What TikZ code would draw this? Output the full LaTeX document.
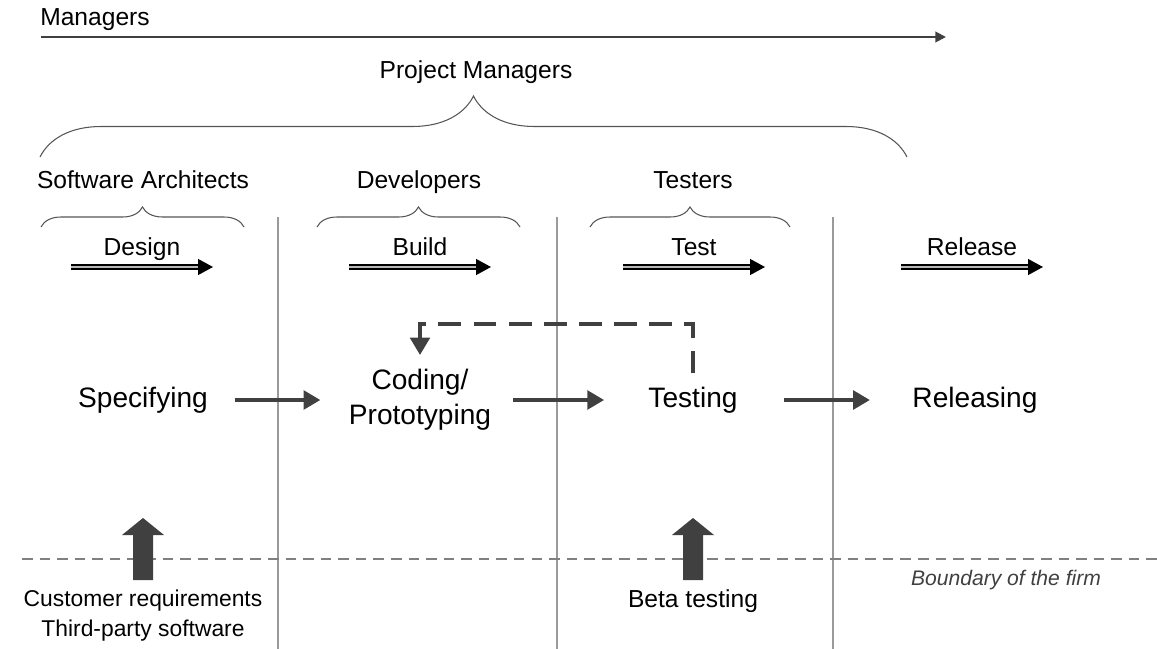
\documentclass[tikz,border=0pt]{standalone}
\usepackage{fontspec}
\setmainfont{Liberation Sans}
\usepackage{xcolor}
\usepackage{tikz}
\usetikzlibrary{arrows.meta,decorations.pathreplacing}

\definecolor{darkflow}{HTML}{404040}
\definecolor{bracegray}{HTML}{555555}
\definecolor{linegray}{HTML}{9A9A9A}

\tikzset{
  rolelabel/.style={font=\fontsize{14}{16}\selectfont, anchor=base, inner sep=0pt},
  process/.style={font=\fontsize{16}{19.8}\selectfont, align=center, inner sep=0pt},
  flow/.style={draw=darkflow, line width=2.8pt, -{Triangle[length=9.6pt,width=10.5pt]}},
  feedback/.style={draw=darkflow, line width=2.8pt, dash pattern=on 13pt off 7pt, -{Triangle[length=10pt,width=11pt]}},
  stagearrow/.style={draw=black, line width=1pt, double=gray!55, double distance=1.2pt, -{Triangle[length=8.5pt,width=9pt]}},
  bracket/.style={draw=bracegray, line width=0.6pt, decorate, decoration={brace, amplitude=#1}},
  divider/.style={draw=linegray, line width=0.6pt},
  boundary/.style={draw=gray, line width=1.1pt, dash pattern=on 6pt off 4pt},
  blockarrow/.style={fill=darkflow},
}

\begin{document}
\begin{tikzpicture}[x=0.02cm,y=-0.02cm]
    \useasboundingbox (0,0) rectangle (1157,649);

    % managers on top
    \node[rolelabel] (mgr) at (95,26) {Managers};
    \draw[draw=darkflow, line width=1.1pt, -{Triangle[length=6pt,width=6pt]}] (41,37) -- (946,37);
    \node[rolelabel] (pm) at (476,78) {Project Managers};
    \draw[bracket=1.22cm] (40,157) -- (907,157);

    % roles and stages
    \foreach \x/\role in {143/Software Architects, 419/Developers, 693/Testers}
        \node[rolelabel] at (\x,188) {\role};
    \foreach \a/\b in {41/244, 317/520, 590/790}
        \draw[bracket=0.4cm] (\a,227) -- (\b,227);
    \foreach \x/\stage in {142/Design, 420/Build, 694/Test, 972/Release}{
        \node[rolelabel] at (\x,255) {\stage};
        \draw[stagearrow] (\x-71,267) -- (\x+71,267);
    }
    \foreach \x in {278,557,833}
        \draw[divider] (\x,217) -- (\x,649);

    % process
    \node[process] (spec) at (143,400) {Specifying};
    \node[process] (code) at (420,400) {Coding/\\Prototyping};
    \node[process] (test) at (693,400) {Testing};
    \node[process] (rel)  at (975,400) {Releasing};
    \coordinate (loop) at (556,324);

    \draw[flow, shorten <=15pt, shorten >=16pt] (spec.east) -- (code.west);
    \draw[flow, shorten <=12.5pt, shorten >=25pt] (code.east) -- (test.west);
    \draw[flow, shorten <=26.5pt, shorten >=24pt] (test.east) -- (rel.west);
    \draw[feedback, shorten <=7.5pt, shorten >=8pt] (test.north) |- (loop) -| (code.north);

    % firm boundary
    \draw[boundary] (22,559) -- (1157,559);
    \foreach \x in {143,693}
        \fill[blockarrow] (\x-10,580) -- (\x-10,535) -- (\x-21,535) -- (\x,518)
            -- (\x+21,535) -- (\x+10,535) -- (\x+10,580) -- cycle;
    \node[process, font=\fontsize{13}{17}\selectfont] (req) at (143,616) {Customer requirements\\Third-party software};
    \node[rolelabel] (beta) at (693,607) {Beta testing};
    \node[rolelabel, font=\fontsize{12}{14}\selectfont\itshape, text=darkflow] (firm) at (1006,585) {Boundary of the firm};
\end{tikzpicture}
\end{document}
